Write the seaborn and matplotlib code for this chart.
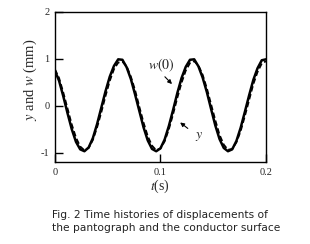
import numpy as np
import pandas as pd
import matplotlib
matplotlib.use("Agg")
import matplotlib.pyplot as plt
import seaborn as sns

# time samples (s)
t = [round(0.004 * k, 3) for k in range(51)]
# pantograph displacement y (mm)
y = [0.75, 0.53, 0.20, -0.16, -0.50, -0.77, -0.93, -0.97, -0.89, -0.69,
     -0.39, -0.04, 0.31, 0.62, 0.85, 0.99, 0.98, 0.82, 0.57, 0.24,
     -0.11, -0.46, -0.74, -0.92, -0.97, -0.91, -0.72, -0.43, -0.09, 0.27,
     0.59, 0.83, 0.98, 0.99, 0.84, 0.60, 0.29, -0.07, -0.42, -0.71,
     -0.90, -0.97, -0.93, -0.75, -0.47, -0.13, 0.22, 0.55, 0.80, 0.97, 0.99]
# conductor surface displacement w(0) (mm)
w = [0.78, 0.59, 0.28, -0.06, -0.40, -0.68, -0.87, -0.95, -0.90, -0.73,
     -0.46, -0.14, 0.21, 0.53, 0.78, 0.92, 0.94, 0.84, 0.62, 0.33,
     -0.02, -0.36, -0.65, -0.85, -0.95, -0.91, -0.76, -0.50, -0.18, 0.17,
     0.49, 0.75, 0.91, 0.95, 0.86, 0.66, 0.37, 0.03, -0.31, -0.62,
     -0.83, -0.94, -0.92, -0.78, -0.54, -0.22, 0.12, 0.46, 0.72, 0.90, 0.95]

x_ticks = [0, 0.1, 0.2]
x_tick_labels = ["0", "0.1", "0.2"]
y_ticks = [-1, 0, 1, 2]
y_tick_labels = ["-1", "0", "1", "2"]

sns.set_style("ticks")
plt.rcParams["font.family"] = ["Liberation Serif", "DejaVu Serif"]
plt.rcParams["mathtext.fontset"] = "stix"
plt.rcParams["axes.unicode_minus"] = False

df_y = pd.DataFrame({"t": t, "v": y})
df_w = pd.DataFrame({"t": t, "v": w})

fig = plt.figure(figsize=(3.10, 2.44), dpi=100)
ax = fig.add_axes([0.177, 0.336, 0.681, 0.615])

sns.lineplot(data=df_w, x="t", y="v", ax=ax, color="black", lw=1.3,
             linestyle=(0, (3, 1.5)))
sns.lineplot(data=df_y, x="t", y="v", ax=ax, color="black", lw=1.8)

ax.set_xlim(0, 0.2)
ax.set_ylim(-1.2, 2)
ax.set_xticks(x_ticks)
ax.set_xticklabels(x_tick_labels)
ax.set_yticks(y_ticks)
ax.set_yticklabels(y_tick_labels)
ax.tick_params(direction="in", length=6, width=1, labelsize=7.5, pad=4,
               color="black")
for s in ax.spines.values():
    s.set_linewidth(1.0)
    s.set_color("black")

ax.set_xlabel(r"$t$(s)", fontsize=10, labelpad=1)
ax.set_ylabel(r"$y$ and $w$ (mm)", fontsize=10.5)
ax.yaxis.set_label_coords(-0.075, 0.55)

ax.text(0.101, 0.87, r"$w(0)$", fontsize=10, ha="center", va="center")
ax.annotate("", xy=(0.1128, 0.42), xytext=(0.1024, 0.66),
            arrowprops=dict(arrowstyle="-|>", color="black", lw=0.8,
                            mutation_scale=6))
ax.text(0.1365, -0.66, r"$y$", fontsize=10, ha="center", va="center")
ax.annotate("", xy=(0.1166, -0.32), xytext=(0.128, -0.52),
            arrowprops=dict(arrowstyle="-|>", color="black", lw=0.8,
                            mutation_scale=6))

fig.text(52 / 310, 1 - 221.5 / 244,
         "Fig. 2 Time histories of displacements of\nthe pantograph and the conductor surface",
         fontsize=7.7, family=["DejaVu Sans"], ha="left", va="center",
         linespacing=1.3, color="#222222")

fig.savefig("out.png", dpi=100)
